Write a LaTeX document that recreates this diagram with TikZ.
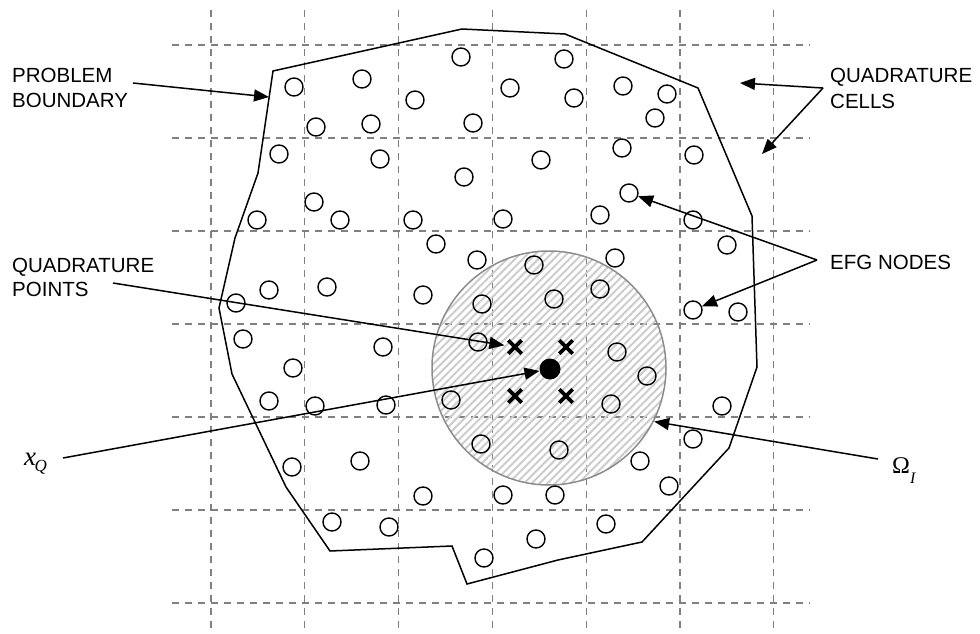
\documentclass[tikz,border=0pt]{standalone}
\usepackage{fontspec}
\setmainfont{Liberation Sans}
\newfontfamily\tnr{Liberation Serif}
\usetikzlibrary{arrows.meta,patterns.meta,shapes.misc}
\definecolor{gridgray}{RGB}{128,128,128}
\definecolor{discgray}{RGB}{140,140,140}
\begin{document}
\begin{tikzpicture}[x=1pt,y=-1pt,
  gridline/.style={draw=gridgray,line width=1.2pt,dash pattern=on 7pt off 6pt},
  efg/.style={circle,draw,line width=1.4pt,minimum size=18pt,inner sep=0pt},
  lbl/.style={anchor=base west,inner sep=0pt,font=\fontsize{20.5}{24}\selectfont},
  arr/.style={line width=1.5pt,-{Triangle[length=15pt,width=12pt]}},
  qpt/.style={cross out,draw,line width=3.8pt,minimum size=9.5pt,inner sep=0pt},
  boundary/.style={draw,line width=1.5pt,line join=miter}]
\useasboundingbox (0,0) rectangle (980,634);
% quadrature cells
\foreach \i in {0,...,6} \draw[gridline] ({211+93.8*\i},10) -- ({211+93.8*\i},634);
\foreach \j in {0,...,6} \draw[gridline] (172,{45+93*\j}) -- (810,{45+93*\j});
% support domain
\node[circle,draw=discgray,line width=1.5pt,minimum size=234pt,inner sep=0pt,
  pattern={Lines[angle=45,distance=5.5pt,line width=2pt]},pattern color=gray!40] (omega) at (549,368) {};
% problem boundary
\draw[boundary] (273,71) -- (462,29) -- (565,34) -- (698,88) -- (752,216) -- (757,367)
  -- (729,448) -- (642,542) -- (558,560) -- (467,584) -- (452,546) -- (330,551)
  -- (286,487) -- (232,374) -- (219,308) -- (235,238) -- (258,173) -- cycle;
% EFG nodes
\foreach \x/\y [count=\i] in {294/87,316/127,279/154,314/202,257/220,269/290,327/287,236/303,
  362/79,461/57,564/59,510/88,415/100,574/98,623/86,371/124,473/123,655/118,
  380/159,464/177,541/160,622/148,629/193,600/215,340/220,413/220,503/219,
  436/244,477/260,534/265,615/258,423/295,482/304,554/299,600/289,
  667/94,694/155,693/220,727/245,693/310,738/312,
  243/339,293/368,269/401,315/406,292/467,383/347,478/342,386/405,451/400,
  617/352,647/376,611/404,481/444,559/450,640/461,360/461,423/496,503/495,555/495,
  332/522,389/527,536/539,606/524,484/558,722/406,693/439,669/486}
  \node[efg] (n\i) at (\x,\y) {};
% quadrature points and x_Q
\node[qpt] (q1) at (515,347) {};
\node[qpt] (q2) at (566,347) {};
\node[qpt] (q3) at (515,396) {};
\node[qpt] (q4) at (566,396) {};
\node[circle,fill=black,minimum size=21pt,inner sep=0pt] (xq) at (550,369) {};
% labels
\node[lbl] (pb1) at (12,82) {PROBLEM};
\node[lbl] (pb2) at (12,107) {BOUNDARY};
\node[lbl] (qp1) at (12,272) {QUADRATURE};
\node[lbl] (qp2) at (12,296) {POINTS};
\node[lbl] (qc1) at (830,83) {QUADRATURE};
\node[lbl] (qc2) at (830,108) {CELLS};
\node[lbl] (efgl) at (830,269) {EFG NODES};
\node[anchor=base west,inner sep=0pt] (xql) at (24,465)
  {\tnr\fontsize{27}{27}\selectfont\itshape x\kern-1.5pt\raisebox{-6.5pt}{\fontsize{17}{17}\selectfont Q}};
\node[anchor=base west,inner sep=0pt] (oml) at (892,473)
  {\tnr\fontsize{24}{24}\selectfont Ω\raisebox{-10pt}{\itshape\fontsize{16}{16}\selectfont I}};
% arrow start / end points
\coordinate (pbs) at (133,83);
\coordinate (pbt) at (269,97);
\coordinate (qcs) at (823,88);
\coordinate (qct1) at (740,83);
\coordinate (qct2) at (762,154);
\coordinate (efgs) at (817,260);
\coordinate (qps) at (113,283);
\coordinate (xqs) at (63,458);
\coordinate (oms) at (878,459);
% connectors
\draw[arr] (pbs) -- (pbt);
\draw[arr] (qcs) -- (qct1);
\draw[arr] (qcs) -- (qct2);
\draw[arr] (efgs) -- (n23);
\draw[arr] (efgs) -- (n40);
\draw[arr,shorten >=4pt] (qps) -- (q1);
\draw[arr] (xqs) -- (xq);
\draw[arr] (oms) -- (omega.-27);
\end{tikzpicture}
\end{document}
